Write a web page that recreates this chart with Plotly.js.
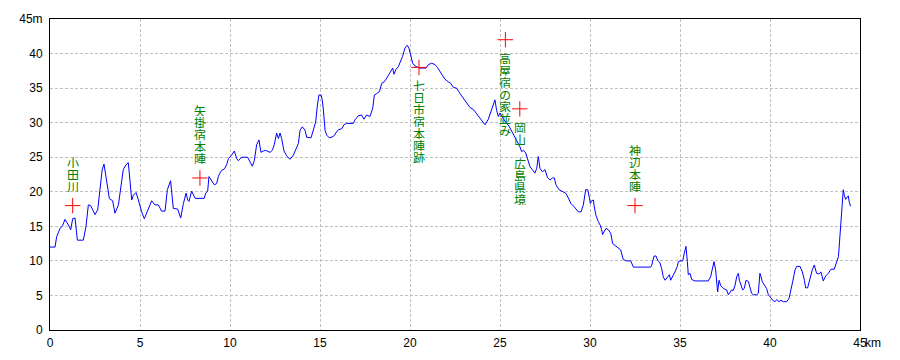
<!DOCTYPE html>
<html>
<head>
<meta charset="utf-8">
<script src="https://cdn.plot.ly/plotly-3.0.1.min.js"></script>
<style>html,body{margin:0;padding:0;background:#fff;}#chart{width:900px;height:360px;}</style>
</head>
<body>
<div id="chart"></div>
<script>
// Distance (km) and elevation (m) of the route profile
const distKm = [0,0.28,0.37,0.56,0.7,0.83,1.02,1.15,1.26,1.39,1.52,1.85,2.0,2.13,2.26,2.5,2.65,2.78,2.9,3.0,3.09,3.19,3.3,3.48,3.61,3.8,3.93,4.07,4.22,4.35,4.44,4.54,4.63,4.78,4.91,5.09,5.24,5.41,5.65,5.83,6.02,6.2,6.39,6.52,6.7,6.85,7.09,7.26,7.41,7.56,7.65,7.72,7.8,7.87,8.06,8.57,8.65,8.76,8.83,8.98,9.13,9.26,9.35,9.44,9.54,9.69,9.81,9.91,10.09,10.24,10.37,10.46,10.65,10.98,11.11,11.24,11.35,11.48,11.61,11.72,11.85,11.98,12.22,12.35,12.46,12.59,12.69,12.78,12.87,13.0,13.15,13.33,13.52,13.65,13.8,13.89,14.02,14.17,14.26,14.5,14.63,14.76,14.85,14.94,15.06,15.13,15.19,15.28,15.37,15.52,15.74,15.93,16.02,16.2,16.33,16.48,16.85,16.94,17.13,17.31,17.44,17.59,17.78,17.93,18.02,18.15,18.3,18.43,18.56,18.67,18.8,18.93,19.04,19.11,19.22,19.35,19.48,19.59,19.72,19.85,19.94,20.04,20.15,20.28,20.52,20.89,21.02,21.2,21.39,21.52,21.67,21.81,21.94,22.13,22.26,22.41,22.59,22.78,22.96,23.15,23.33,23.52,23.7,23.89,24.07,24.17,24.35,24.5,24.63,24.72,24.81,24.91,25.0,25.2,25.5,25.8,26.0,26.11,26.2,26.3,26.43,26.54,26.67,26.8,26.94,27.04,27.13,27.22,27.35,27.5,27.63,27.78,27.91,28.02,28.11,28.28,28.46,28.65,28.8,28.94,29.13,29.35,29.5,29.63,29.76,29.88,29.96,30.02,30.09,30.19,30.24,30.33,30.46,30.56,30.65,30.7,30.78,30.89,31.02,31.15,31.26,31.39,31.57,31.7,31.85,32.04,32.26,32.37,32.41,33.37,33.43,33.56,33.67,33.76,33.89,33.98,34.07,34.17,34.3,34.41,34.48,34.59,34.72,34.85,34.91,35.0,35.15,35.24,35.33,35.41,35.46,35.56,35.65,35.83,36.57,36.7,36.81,36.89,36.98,37.04,37.09,37.17,37.26,37.41,37.5,37.59,37.69,37.78,37.87,37.96,38.06,38.15,38.24,38.3,38.39,38.48,38.57,38.67,38.8,38.89,38.98,39.07,39.26,39.35,39.44,39.5,39.57,39.69,39.81,39.91,40.06,40.19,40.28,40.37,40.5,40.61,40.74,40.93,41.06,41.17,41.26,41.39,41.48,41.67,41.8,41.91,41.98,42.09,42.22,42.35,42.46,42.54,42.59,42.72,42.83,42.96,43.09,43.24,43.39,43.57,43.67,43.8,43.85,43.93,43.98,44.02,44.07,44.13,44.2,44.3,44.35,44.41,44.48];
const elevM = [12,12,13.5,14.7,15.1,16,15.2,14.5,16.1,16.2,13,13,15,18.1,18,16.7,17.4,20.7,23.2,24,22.4,20.3,19,18.7,16.9,18.1,20.3,23.2,23.9,24.2,21.7,18.8,19.5,19.9,18.8,17.1,16.1,17.1,18.7,18.1,18.1,17.2,17.2,20.3,21.6,17.6,17.5,16.2,18.3,19.8,18.8,18.6,19.5,20.1,19.05,19.05,19.8,20.1,22.2,21.5,21,21.2,22.2,22.7,23.1,23.3,23.9,24.8,25.3,25.9,24.8,24.5,25,25,24.4,23.7,24.5,26.8,27.5,25.7,25.9,26.0,25.7,26.0,26.8,28.5,27.7,28.5,27.7,25.9,25.2,24.7,25.3,26.0,27,28.9,29.4,28.9,27.9,27.8,28.9,30.1,32.4,34.0,34.0,33.2,31.8,28.9,28.2,27.8,28.0,28.7,29.0,29.1,29.7,29.9,29.9,30.4,31.0,31.1,30.5,31.1,30.9,32.1,34.0,34.2,34.5,35.7,35.9,36.3,36.9,37.4,37.9,37.0,37.7,38.1,38.8,39.6,40.8,41.2,40.8,39.6,38.6,38.2,37.9,37.9,38.4,38.6,38.4,38.0,37.4,36.7,36.3,35.9,35.7,35.1,35.0,34.2,33.5,32.9,32.2,31.9,31.3,30.6,29.9,29.7,30.5,31.6,32.8,33.3,31.8,30.9,31.4,30.5,29.5,28.0,27.0,26.5,25.8,26.0,25.6,24.8,23.6,23.2,22.7,23.4,25.1,23.4,22.9,23.2,22.1,21.7,22.0,22.0,21.0,20.3,20.0,19.8,19.1,18.3,17.8,17.1,17.1,18.1,20.3,20.3,19.2,18.3,18.7,18.8,17.8,16.6,15.7,15.2,14.5,13.8,14.2,14.7,14.5,14.0,12.5,12.2,11.9,11.6,10.2,10.0,10.0,9.4,9.1,9.1,9.4,10.7,10.7,10.1,9.7,8.9,7.7,7.2,7.6,8.0,7.2,7.7,8.4,9.2,9.9,10.0,10.0,11.1,12.1,9.9,8.0,8.2,7.3,7.1,7.1,7.7,9.2,9.9,8.7,7.2,5.5,7.2,6.4,6.0,5.9,5.8,5.1,5.55,5.8,5.7,6.5,7.7,8.2,7.2,6.3,5.8,6.0,7.2,7.0,6.3,5.3,5.1,5.1,5.3,8.2,7.7,7.0,6.5,6.0,5.1,4.6,4.2,4.1,4.4,4.1,4.3,4.1,4.1,4.6,5.8,7.0,8.7,9.2,9.2,8.4,7.2,6.1,6.1,7.5,8.7,9.4,8.8,8.2,8.1,8.4,7.1,7.8,8.2,8.8,8.8,9.6,10.6,12.3,15.4,17.6,19.5,20.3,19.5,18.9,19.3,19.4,18.4,17.9];

// Landmarks
const placeNames = ["小田川","矢掛宿本陣","七日市宿本陣跡","高屋宿の家並み","岡山　広島県境","神辺本陣"];
const placeKm = [1.26, 8.33, 20.5, 25.3, 26.1, 32.5];
const placeM = [18, 22, 38, 42, 32, 18];
const placeLabelBelow = [false, false, true, true, true, false];

// Tick labels
const xTickVals = [0,5,10,15,20,25,30,35,40,45];
const xTickText = ["0","5","10","15","20","25","30","35","40","45"];
const yTickVals = [0,5,10,15,20,25,30,35,40,45];
const yTickText = ["0","5","10","15","20","25","30","35","40","45m"];

const tickFont = {family: "Liberation Sans Narrow, Liberation Sans, sans-serif", size: 12, color: "#000"};
const labelFont = {family: "Noto Sans CJK JP, sans-serif", size: 12, color: "rgb(0,128,0)"};
const pitch = 12;

const annotations = [];
placeNames.forEach((name, i) => {
  const chars = Array.from(name);
  const n = chars.length;
  chars.forEach((ch, k) => {
    if (ch.trim() === "") return;
    const shift = placeLabelBelow[i] ? -(18 + k * pitch) : (20 + (n - 1 - k) * pitch);
    annotations.push({x: placeKm[i], y: placeM[i], xref: "x", yref: "y", text: ch,
      showarrow: false, xanchor: "center", yanchor: "middle", yshift: shift,
      width: 12, height: 12, borderpad: 0, font: labelFont});
  });
});
annotations.push({x: 45, y: 0, xref: "x", yref: "y", text: "km", showarrow: false,
  xanchor: "left", yanchor: "top", xshift: 3, yshift: -4, font: tickFont});

const traces = [
  {x: distKm, y: elevM, type: "scatter", mode: "lines", line: {color: "rgb(0,0,255)", width: 1}, hoverinfo: "skip"},
  {x: placeKm, y: placeM, type: "scatter", mode: "markers", hoverinfo: "skip",
   marker: {symbol: "cross-thin", size: 11, color: "rgb(255,0,0)", line: {color: "rgb(255,0,0)", width: 1}}}
];

const axisCommon = {showline: true, linecolor: "#000", linewidth: 1, mirror: true, zeroline: false,
  showgrid: true, gridcolor: "#c0c0c0", gridwidth: 1, griddash: "3px,2px", ticks: "", tickfont: tickFont, fixedrange: true};

const layout = {
  width: 900, height: 360,
  margin: {l: 50, r: 40, t: 19, b: 30},
  paper_bgcolor: "#fff", plot_bgcolor: "#fff",
  showlegend: false,
  xaxis: Object.assign({}, axisCommon, {range: [0, 45], tickmode: "array", tickvals: xTickVals, ticktext: xTickText, ticklabelstandoff: 2}),
  yaxis: Object.assign({}, axisCommon, {range: [0, 45], tickmode: "array", tickvals: yTickVals, ticktext: yTickText, ticklabelstandoff: 4}),
  annotations: annotations
};

Plotly.newPlot("chart", traces, layout, {displayModeBar: false, staticPlot: true});
</script>
</body>
</html>
